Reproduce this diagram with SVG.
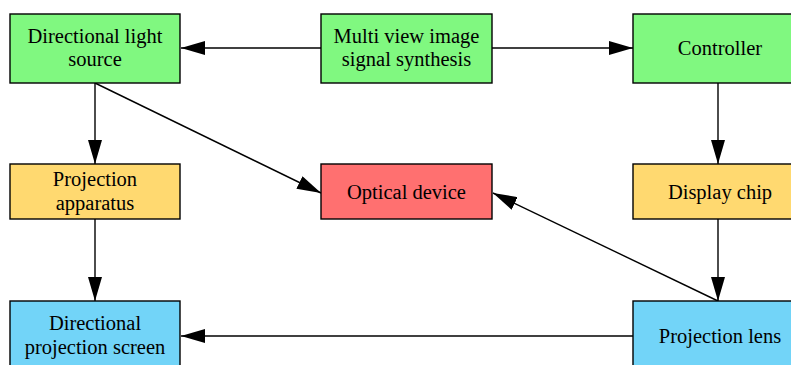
<svg xmlns="http://www.w3.org/2000/svg" width="791" height="365" viewBox="0 0 791 365">
<style>
.box{stroke:#000;stroke-width:1.4}
.g{fill:#80F880}.y{fill:#FFD970}.r{fill:#FF7070}.b{fill:#72D4F8}
text{font-family:"Liberation Serif","Times New Roman",serif;font-size:20.5px;fill:#000;text-anchor:middle}
.e{stroke:#000;stroke-width:1.4;fill:none;marker-end:url(#ah)}
</style>
<defs>
<marker id="ah" markerWidth="24" markerHeight="14" refX="24" refY="7" orient="auto" markerUnits="userSpaceOnUse">
<path d="M0,0 L24,7 L0,14 Z" fill="#000"/>
</marker>
</defs>
<rect width="791" height="365" fill="#fff"/>
<g id="connectors">
<line class="e" x1="321" y1="48" x2="181" y2="48"/>
<line class="e" x1="492" y1="48" x2="633" y2="48"/>
<line class="e" x1="95" y1="83" x2="95" y2="164"/>
<line class="e" x1="95" y1="83" x2="321" y2="193"/>
<line class="e" x1="95" y1="219" x2="95" y2="301"/>
<line class="e" x1="718" y1="83" x2="718" y2="164"/>
<line class="e" x1="718" y1="219" x2="718" y2="301"/>
<line class="e" x1="718" y1="301" x2="493" y2="193"/>
<line class="e" x1="633" y1="336" x2="181" y2="336"/>
</g>
<g id="dls"><rect class="box g" x="10" y="14" width="170" height="69"/><text x="95" y="42.5">Directional light</text><text x="95" y="66">source</text></g>
<g id="mvis"><rect class="box g" x="321" y="14" width="171" height="69"/><text x="406.5" y="42.5">Multi view image</text><text x="406.5" y="66">signal synthesis</text></g>
<g id="controller"><rect class="box g" x="633" y="14" width="170" height="69"/><text x="720" y="55">Controller</text></g>
<g id="pa"><rect class="box y" x="10" y="164" width="170" height="55"/><text x="95" y="186">Projection</text><text x="95" y="210">apparatus</text></g>
<g id="od"><rect class="box r" x="321" y="164" width="171" height="55"/><text x="406.5" y="199">Optical device</text></g>
<g id="dc"><rect class="box y" x="633" y="164" width="170" height="55"/><text x="720" y="199">Display chip</text></g>
<g id="dps"><rect class="box b" x="10" y="301" width="170" height="70"/><text x="95" y="330">Directional</text><text x="95" y="354">projection screen</text></g>
<g id="pl"><rect class="box b" x="633" y="301" width="170" height="70"/><text x="720" y="343">Projection lens</text></g>
</svg>
